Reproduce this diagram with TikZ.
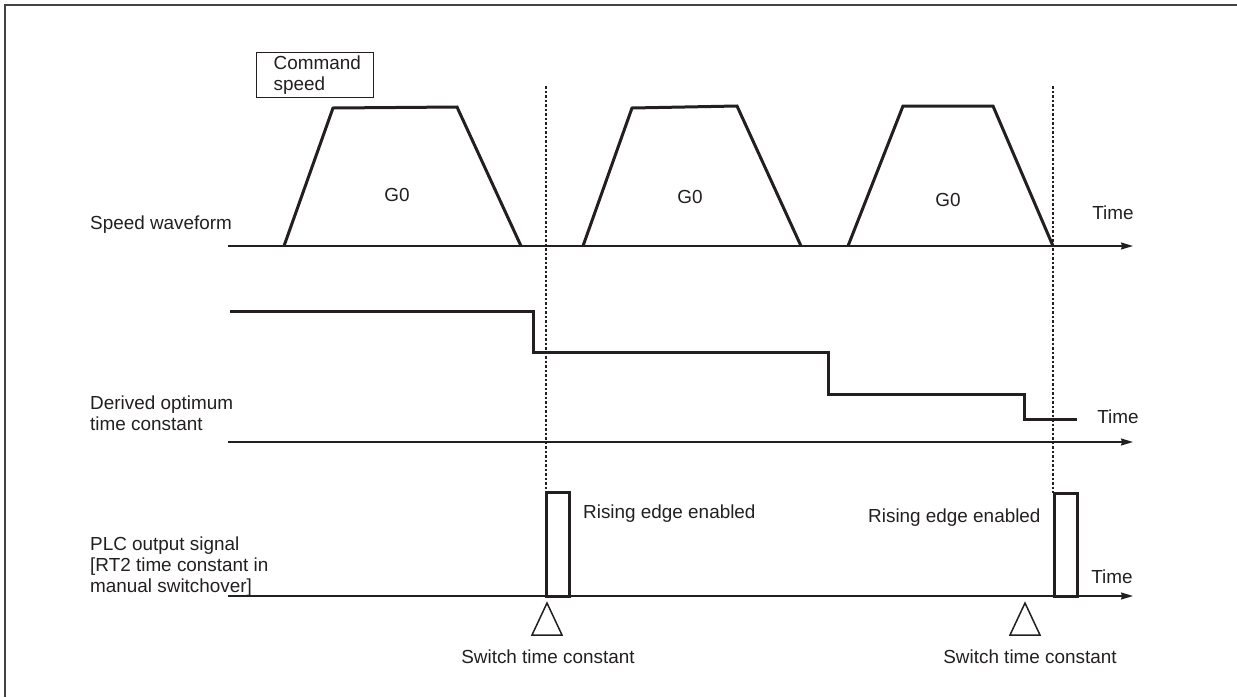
\documentclass[tikz,border=0pt]{standalone}
\usepackage{fontspec}
\setmainfont{Liberation Sans}
\usepackage{xcolor}
\usetikzlibrary{arrows.meta,positioning,calc}
\definecolor{inkc}{HTML}{231F20}

\begin{document}
\begin{tikzpicture}[
    x=1pt, y=-1pt,
    every node/.style={font=\fontsize{18.9pt}{21pt}\selectfont, inner sep=0pt, text=inkc},
    frameline/.style={draw=inkc!85, line width=1.4pt},
    timeaxis/.style={draw=inkc, line width=1.5pt, -{Stealth[length=12pt, width=7pt, inset=1pt]}},
    wave/.style={draw=inkc, line width=3pt},
    guide/.style={draw=inkc, line width=1.3pt, dash pattern=on 2.5pt off 2pt},
    pulse/.style={draw=inkc, line width=3pt},
    trimark/.style={draw=inkc, line width=1.5pt, line join=miter},
    sigtext/.style={anchor=base west, align=left},
    cmdbox/.style={draw=inkc, line width=1.3pt, anchor=north west, minimum width=117pt,
        minimum height=45pt, text width=83pt, inner xsep=17pt, align=left}
]
\useasboundingbox (0,0) rectangle (1237,697);

% Frame
\draw[frameline] (5,697) -- (5,5) -- (1237,5);

% Time axes
\coordinate (spd0) at (228,246);
\coordinate (spd1) at (1133,246);
\coordinate (tc0) at (228,442);
\coordinate (tc1) at (1133,442);
\coordinate (plc0) at (228,596);
\coordinate (plc1) at (1133,596);
\draw[timeaxis] (spd0) -- (spd1);
\draw[timeaxis] (tc0) -- (tc1);
\draw[timeaxis] (plc0) -- (plc1);

\node (time1) at (1113,213) {Time};
\node (time2) at (1118,417) {Time};
\node (time3) at (1112,577) {Time};

% Signal names on left (base = last line)
\node[sigtext] (spdlbl) at (90,229) {Speed waveform};
\node[sigtext] (tclbl) at (90,430) {Derived optimum\\time constant};
\node[sigtext] (plclbl) at (90,592) {PLC output signal\\{[}RT2 time constant in\\manual switchover]};

% Command speed box
\node[cmdbox] (cmdspd) at (256,52) {Command\\speed};

% Speed waveform: three G0 moves
\foreach \i/\xa/\xb/\yb/\xc/\yc/\xd/\gx/\gy in {
    1/284/333/108/457/107/521/397/195,
    2/583/632/108/737/106/801/690/197,
    3/848/903/106/993/106/1053/948/200} {
    \draw[wave] (\xa,246) -- (\xb,\yb) -- (\xc,\yc) -- (\xd,246);
    \node (move\i) at (\gx,\gy) {G0};
}

% Derived optimum time constant (steps)
\draw[wave] (230,311) -- (533,311) -- (533,352) -- (828,352) -- (828,394)
    -- (1024,394) -- (1024,419) -- (1077,419);

% Dotted guides
\draw[guide] (546,86) -- (546,492);
\draw[guide] (1053,86) -- (1053,493);

% PLC output pulses
\draw[pulse] (546,596) rectangle (569,492);
\draw[pulse] (1054,596) rectangle (1077,493);
\node[sigtext] (rise1) at (583,518) {Rising edge enabled};
\node[sigtext] (rise2) at (868,522) {Rising edge enabled};

% Switch markers
\draw[trimark] (547,603) -- (562,635) -- (532,635) -- cycle;
\draw[trimark] (1025,603) -- (1040,635) -- (1010,635) -- cycle;
\node[anchor=base] (switch1) at (548,663) {Switch time constant};
\node[anchor=base] (switch2) at (1030,663) {Switch time constant};

\end{tikzpicture}
\end{document}
